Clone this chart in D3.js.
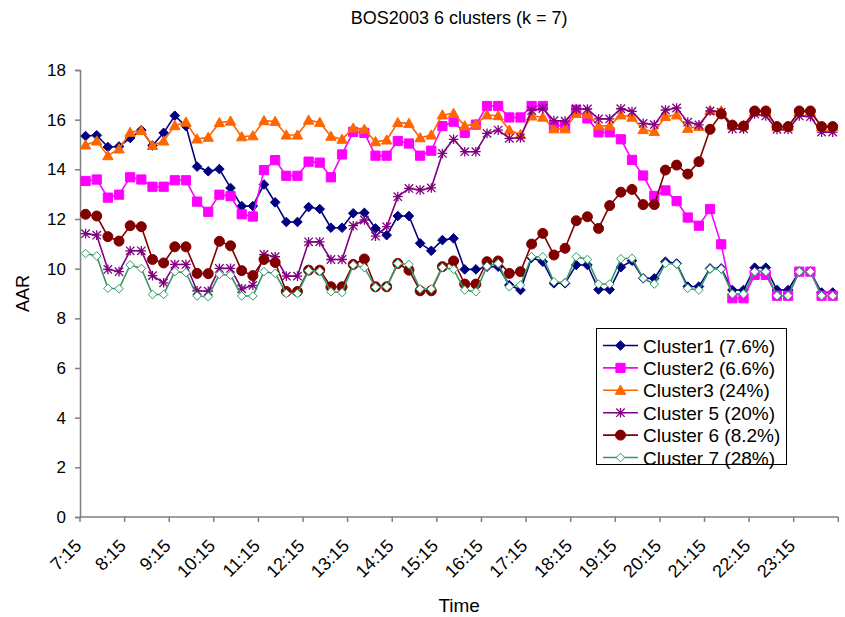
<!DOCTYPE html>
<html>
<head>
<meta charset="utf-8">
<script src="https://cdn.jsdelivr.net/npm/d3@7"></script>
<style>
  body { margin: 0; background: #fff; }
  text { font-family: "Liberation Sans", Arial, sans-serif; fill: #000; }
</style>
</head>
<body>
<div id="chart"></div>
<script>
// quarter-hour categories on the x axis
const times = [
  "7:15","7:30","7:45",
  "8:00","8:15","8:30","8:45","9:00","9:15","9:30","9:45",
  "10:00","10:15","10:30","10:45","11:00","11:15","11:30","11:45",
  "12:00","12:15","12:30","12:45","13:00","13:15","13:30","13:45",
  "14:00","14:15","14:30","14:45","15:00","15:15","15:30","15:45",
  "16:00","16:15","16:30","16:45","17:00","17:15","17:30","17:45",
  "18:00","18:15","18:30","18:45","19:00","19:15","19:30","19:45",
  "20:00","20:15","20:30","20:45","21:00","21:15","21:30","21:45",
  "22:00","22:15","22:30","22:45","23:00","23:15","23:30","23:45",
  "0:00"
];

const timeTickLabels = ["7:15","8:15","9:15","10:15","11:15","12:15","13:15","14:15","15:15",
  "16:15","17:15","18:15","19:15","20:15","21:15","22:15","23:15"];

const yTicks = [0, 2, 4, 6, 8, 10, 12, 14, 16, 18];

const cluster1 = [15.34,15.37,14.90,14.92,15.26,15.58,14.96,15.47,16.16,15.74,14.11,13.92,14.01,13.25,12.52,12.52,
  13.39,12.67,11.88,11.88,12.48,12.40,11.65,11.65,12.23,12.25,11.62,11.35,12.12,12.12,11.02,10.72,11.15,11.22,
  9.97,9.97,10.08,10.08,9.34,9.14,10.44,10.28,9.41,9.41,10.15,10.15,9.16,9.16,10.06,10.32,9.61,9.61,10.28,10.21,
  9.28,9.28,10.01,10.01,9.14,9.14,10.04,10.04,9.14,9.14,9.88,9.88,9.04,9.04];

const cluster2 = [13.53,13.59,12.86,12.98,13.68,13.59,13.30,13.30,13.56,13.56,12.70,12.29,12.98,12.92,12.19,12.10,
  13.97,14.37,13.74,13.74,14.31,14.27,13.68,14.60,15.51,15.47,14.55,14.55,15.14,15.04,14.55,14.75,15.74,15.92,
  15.47,15.80,16.55,16.55,16.09,16.09,16.55,16.55,15.75,15.75,16.40,16.05,15.49,15.49,15.21,14.38,13.75,12.93,
  13.15,12.72,12.06,11.73,12.40,10.98,8.81,8.81,9.75,9.75,8.91,8.91,9.88,9.88,8.91,8.91];

const cluster3 = [14.98,15.14,14.55,14.82,15.49,15.56,14.96,15.14,15.76,15.90,15.22,15.29,15.88,15.94,15.31,15.35,
  15.96,15.93,15.38,15.38,15.98,15.89,15.33,15.21,15.66,15.61,15.11,15.18,15.88,15.85,15.27,15.38,16.19,16.25,
  15.75,15.82,16.19,16.16,15.58,15.40,16.15,16.10,15.63,15.63,16.25,16.23,15.75,15.75,16.19,16.10,15.60,15.52,
  16.13,16.19,15.65,15.72,16.37,16.35,15.79,15.77,16.32,16.32,15.72,15.72,16.32,16.32,15.72,15.72];

const cluster5 = [11.41,11.35,9.97,9.88,10.72,10.72,9.72,9.43,10.17,10.17,9.11,9.09,10.01,10.01,9.19,9.33,
  10.57,10.48,9.70,9.70,11.08,11.08,10.37,10.37,11.73,11.96,11.31,11.69,12.90,13.23,13.17,13.25,14.64,15.21,
  14.71,14.71,15.45,15.58,15.25,15.27,16.37,16.45,15.96,15.94,16.43,16.43,16.03,16.03,16.44,16.33,15.85,15.80,
  16.39,16.47,15.90,15.79,16.35,16.30,15.63,15.63,16.23,16.15,15.61,15.61,16.15,16.12,15.50,15.50];

const cluster6 = [12.19,12.12,11.29,11.11,11.73,11.69,10.37,10.23,10.88,10.88,9.81,9.80,11.10,10.92,9.92,9.72,
  10.37,10.25,9.08,9.08,9.94,9.94,9.27,9.27,10.17,10.39,9.27,9.27,10.21,9.94,9.11,9.11,10.08,10.31,
  9.38,9.38,10.28,10.31,9.81,9.88,10.99,11.42,10.55,10.82,11.93,12.09,11.62,12.54,13.08,13.19,12.58,12.58,
  13.97,14.17,13.81,14.31,15.61,16.23,15.78,15.74,16.35,16.35,15.72,15.72,16.35,16.35,15.72,15.72];

const cluster7 = [10.61,10.51,9.21,9.19,10.15,10.01,8.96,8.96,9.88,9.84,8.90,8.87,9.77,9.74,8.90,8.90,
  9.88,9.81,9.00,9.00,9.92,9.90,9.07,9.04,10.15,10.04,9.25,9.27,10.21,10.17,9.18,9.18,10.05,9.97,
  9.14,9.07,10.10,10.21,9.27,9.34,10.48,10.48,9.47,9.43,10.48,10.37,9.38,9.38,10.40,10.42,9.61,9.38,
  10.21,10.19,9.21,9.14,9.99,9.99,8.98,8.98,9.88,9.88,8.91,8.91,9.88,9.88,8.91,8.91];

const seriesNames = ["Cluster1 (7.6%)", "Cluster2 (6.6%)", "Cluster3 (24%)",
  "Cluster 5 (20%)", "Cluster 6 (8.2%)", "Cluster 7 (28%)"];

// marker paths, centred on 0,0
const markerPaths = {
  diamond: "M0,-4.8L4.8,0L0,4.8L-4.8,0Z",
  square: "M-4.6,-4.6H4.6V4.6H-4.6Z",
  triangle: "M0,-5.2L5.2,4L-5.2,4Z",
  star: "M0,-4.8V4.8M-4.2,-4.2L4.2,4.2M-4.2,4.2L4.2,-4.2M-4.8,0H4.8",
  circle: "M5,0A5,5 0 1,1 -5,0A5,5 0 1,1 5,0Z",
  openDiamond: "M0,-4.3L4.3,0L0,4.3L-4.3,0Z"
};

const series = [
  { name: seriesNames[0], values: cluster1, color: "#000080", marker: "diamond", fill: "#000080" },
  { name: seriesNames[1], values: cluster2, color: "#FF00FF", marker: "square", fill: "#FF00FF" },
  { name: seriesNames[2], values: cluster3, color: "#FF6600", marker: "triangle", fill: "#FF6600" },
  { name: seriesNames[3], values: cluster5, color: "#800080", marker: "star", fill: "none" },
  { name: seriesNames[4], values: cluster6, color: "#800000", marker: "circle", fill: "#800000" },
  { name: seriesNames[5], values: cluster7, color: "#339966", marker: "openDiamond", fill: "#fff" }
];

function drawChart() {
  const width = 845, height = 617;
  const plot = { left: 80, right: 838.3, top: 70, bottom: 517 };

  const svg = d3.select("#chart").append("svg")
      .attr("width", width)
      .attr("height", height);

  const x = d3.scaleBand()
      .domain(times)
      .range([plot.left, plot.right]);

  const y = d3.scaleLinear()
      .domain([0, 18])
      .range([plot.bottom, plot.top]);

  const cx = t => x(t) + x.bandwidth() / 2;

  // title and axis titles
  svg.append("text")
      .attr("x", (plot.left + plot.right) / 2)
      .attr("y", 24)
      .attr("text-anchor", "middle")
      .style("font-size", "18px")
      .text("BOS2003 6 clusters (k = 7)");

  svg.append("text")
      .attr("transform", `translate(29,${(plot.top + plot.bottom) / 2}) rotate(-90)`)
      .attr("text-anchor", "middle")
      .style("font-size", "18px")
      .text("AAR");

  svg.append("text")
      .attr("x", (plot.left + plot.right) / 2)
      .attr("y", 612)
      .attr("text-anchor", "middle")
      .style("font-size", "19px")
      .text("Time");

  // y axis
  const yAxis = svg.append("g")
      .attr("transform", `translate(${plot.left},0)`)
      .call(d3.axisLeft(y).tickValues(yTicks).tickSize(5).tickPadding(9).tickFormat(d3.format("d")));
  yAxis.selectAll("text").style("font-size", "17px").style("font-family", "Liberation Sans, Arial, sans-serif");
  yAxis.selectAll("line, path").attr("stroke", "#7f7f7f").attr("stroke-width", 1.5);

  // x axis: tick marks every 4 categories, labels under the category centre
  const xAxis = svg.append("g");
  xAxis.append("line")
      .attr("x1", plot.left).attr("x2", plot.right)
      .attr("y1", plot.bottom).attr("y2", plot.bottom)
      .attr("stroke", "#7f7f7f").attr("stroke-width", 1.5);

  const tickXs = timeTickLabels.map(t => x(t)).concat([plot.right]);
  xAxis.selectAll(".xtick")
      .data(tickXs)
      .enter().append("line")
      .attr("x1", d => d).attr("x2", d => d)
      .attr("y1", plot.bottom).attr("y2", plot.bottom + 5)
      .attr("stroke", "#7f7f7f").attr("stroke-width", 1.5);

  xAxis.selectAll(".xlabel")
      .data(timeTickLabels)
      .enter().append("text")
      .attr("transform", d => `translate(${cx(d) - 3},${plot.bottom + 30}) rotate(-45)`)
      .attr("text-anchor", "end")
      .style("font-size", "18px")
      .text(d => d);

  // lines and markers
  const line = d3.line()
      .x((d, i) => cx(times[i]))
      .y(d => y(d));

  series.forEach(s => {
    const g = svg.append("g");
    g.append("path")
        .datum(s.values)
        .attr("fill", "none")
        .attr("stroke", s.color)
        .attr("stroke-width", 1.6)
        .attr("d", line);

    g.selectAll("path.mark")
        .data(s.values)
        .enter().append("path")
        .attr("class", "mark")
        .attr("transform", (d, i) => `translate(${cx(times[i])},${y(d)})`)
        .attr("d", markerPaths[s.marker])
        .attr("fill", s.fill)
        .attr("stroke", s.color)
        .attr("stroke-width", s.marker === "star" ? 1.3 : 1);
  });

  // legend
  const legend = svg.append("g");
  legend.append("rect")
      .attr("x", 596.5).attr("y", 328.5)
      .attr("width", 190).attr("height", 136)
      .attr("fill", "#fff").attr("stroke", "#000").attr("stroke-width", 1);

  series.forEach((s, i) => {
    const ly = 345.5 + i * 22.4;
    legend.append("line")
        .attr("x1", 603).attr("x2", 638)
        .attr("y1", ly).attr("y2", ly)
        .attr("stroke", s.color).attr("stroke-width", 1.6);
    legend.append("path")
        .attr("transform", `translate(620.5,${ly})`)
        .attr("d", markerPaths[s.marker])
        .attr("fill", s.fill)
        .attr("stroke", s.color)
        .attr("stroke-width", s.marker === "star" ? 1.3 : 1);
    legend.append("text")
        .attr("x", 643).attr("y", ly + 7)
        .style("font-size", "19px")
        .text(s.name);
  });
}

drawChart();
</script>
</body>
</html>
